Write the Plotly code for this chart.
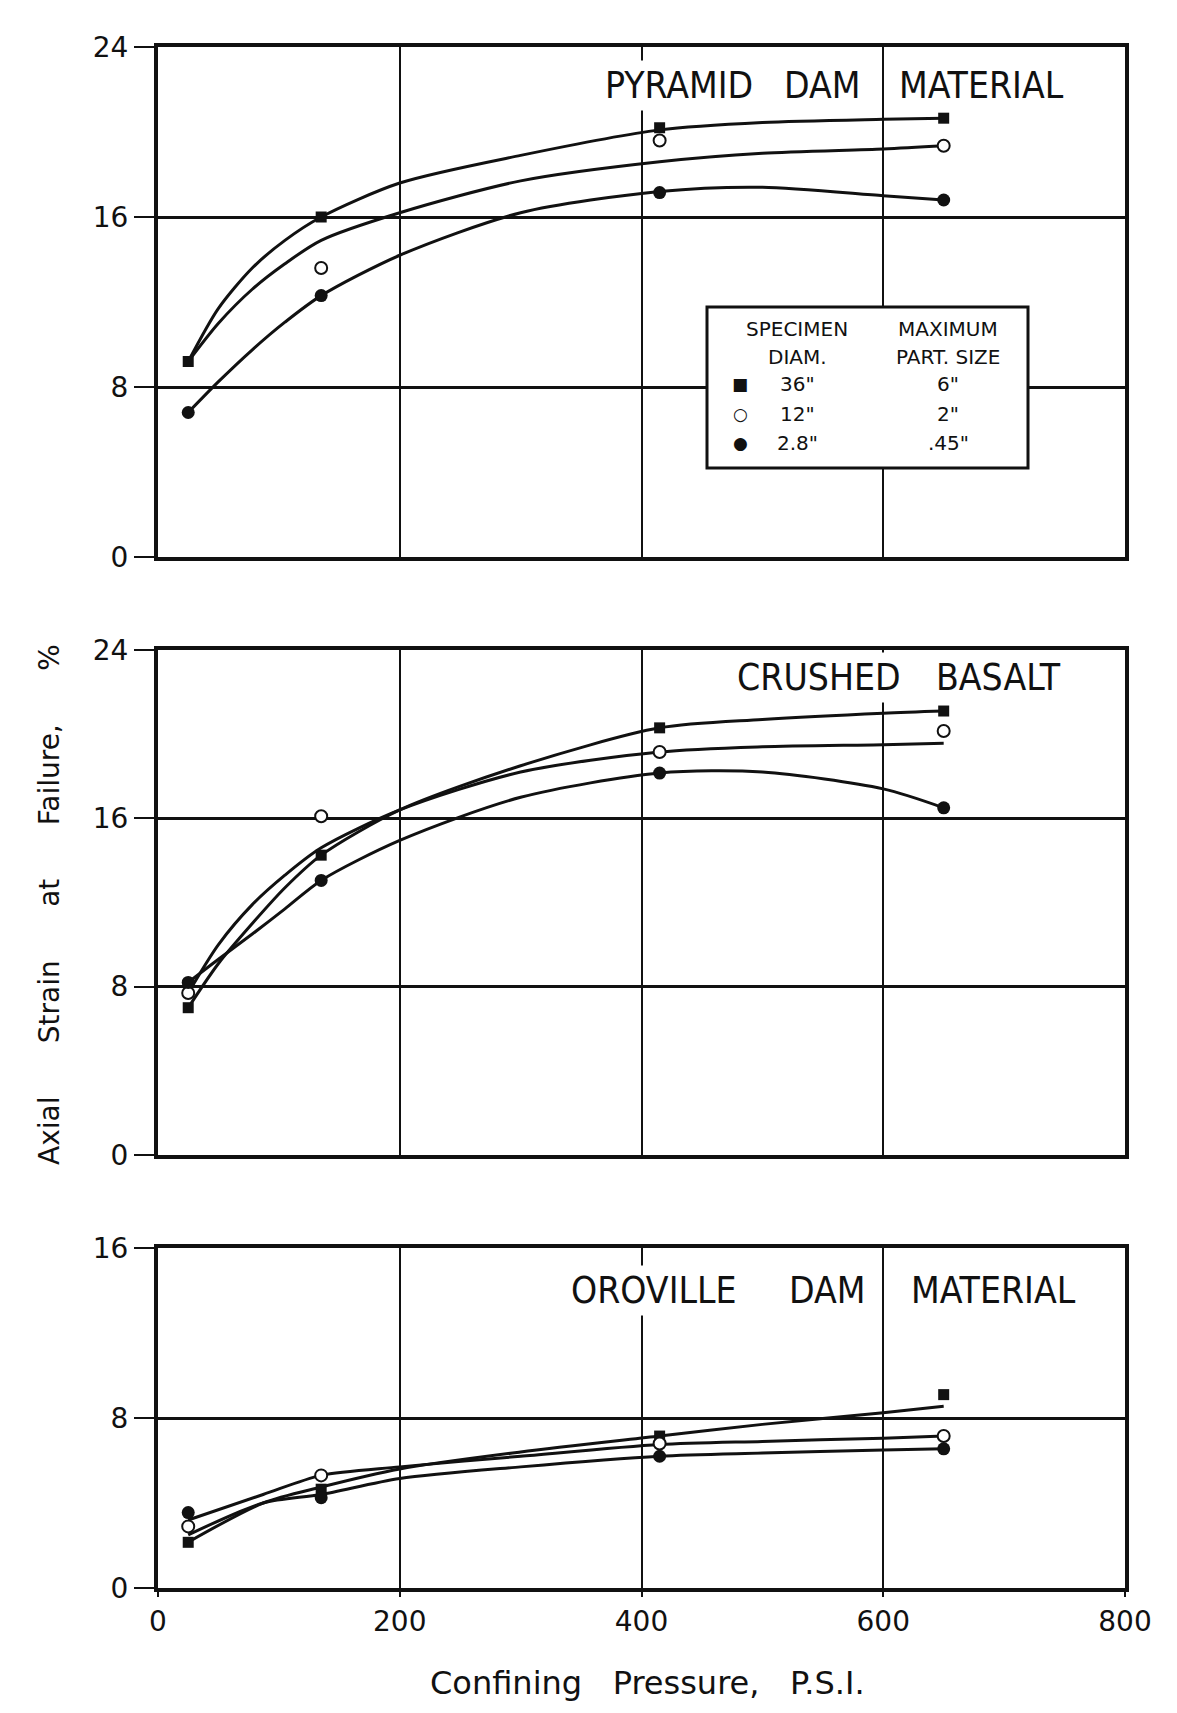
import plotly.graph_objects as go

W, H = 1177, 1713

# ---------------- data ----------------
pressure = [25, 135, 415, 650]          # confining pressure, psi (test points)

# Pyramid Dam material
pyr_36 = [9.2, 16.0, 20.2, 20.65]
pyr_12 = [None, 13.6, 19.6, 19.35]
pyr_28 = [6.8, 12.3, 17.15, 16.8]
pyr_curve_p = [25, 50, 78, 105, 135, 200, 300, 415, 500, 600, 650]
pyr_curve_36 = [9.2, 11.7, 13.6, 14.9, 16.0, 17.6, 18.9, 20.1, 20.45, 20.6, 20.65]
pyr_curve_12 = [9.2, 11.0, 12.6, 13.8, 14.9, 16.2, 17.7, 18.6, 19.0, 19.2, 19.35]
pyr_curve_28 = [6.8, 8.25, 9.75, 11.05, 12.3, 14.2, 16.2, 17.2, 17.4, 17.0, 16.8]

# Crushed basalt
bas_36 = [7.0, 14.25, 20.3, 21.1]
bas_12 = [7.7, 16.1, 19.15, 20.15]
bas_28 = [8.2, 13.05, 18.15, 16.5]
bas_curve_p = [25, 50, 78, 105, 135, 200, 300, 415, 500, 600, 650]
bas_curve_36 = [7.0, 9.1, 11.0, 12.7, 14.25, 16.4, 18.5, 20.3, 20.7, 21.0, 21.1]
bas_curve_12 = [7.7, 10.0, 11.9, 13.3, 14.6, 16.4, 18.2, 19.15, 19.4, 19.5, 19.57]
bas_curve_28 = [8.2, 9.3, 10.5, 11.7, 13.05, 14.95, 17.0, 18.15, 18.2, 17.4, 16.5]

# Oroville Dam material
oro_36 = [2.15, 4.65, 7.15, 9.1]
oro_12 = [2.9, 5.3, 6.8, 7.15]
oro_28 = [3.55, 4.25, 6.2, 6.55]
oro_curve_p = [25, 87, 135, 200, 300, 415, 500, 600, 650]
oro_curve_36 = [2.16, 4.0, 4.75, 5.6, 6.4, 7.15, 7.7, 8.25, 8.55]
oro_curve_12 = [3.2, 4.4, 5.3, 5.7, 6.2, 6.75, 6.9, 7.05, 7.15]
oro_curve_28 = [2.5, 4.0, 4.4, 5.15, 5.7, 6.2, 6.35, 6.5, 6.55]

x_ticks = [0, 200, 400, 600, 800]
y_ticks_big = [0, 8, 16, 24]
y_ticks_small = [0, 8, 16]

panel_titles = [["PYRAMID", "DAM", "MATERIAL"],
                ["CRUSHED", "BASALT"],
                ["OROVILLE", "DAM", "MATERIAL"]]
legend_col1 = ["SPECIMEN", "DIAM.", '36"', '12"', '2.8"']
legend_col2 = ["MAXIMUM", "PART. SIZE", '6"', '2"', '.45"']
NB = "\u00a0"
x_title = (NB * 3).join(["Confining", "Pressure,", "P.S.I."])
y_title = (NB * 6).join(["Axial", "Strain", "at", "Failure,", "%"])

# ---------------- layout helpers (page pixel coords -> paper coords) ----------------
OFF = 8                       # page body offset
ML, MR, MT, MB = 158 - OFF, W - (1125 - OFF), 47 - OFF, H - (1588 - OFF)
PW, PH = W - ML - MR, H - MT - MB

def px(x):
    return (x - OFF - ML) / PW

def py(y):
    return 1 - (y - OFF - MT) / PH

INK = "#111111"
FONT = "DejaVu Sans, Liberation Sans, sans-serif"
NARROW = "Liberation Sans Narrow, DejaVu Sans Condensed, DejaVu Sans, sans-serif"

xdom = [0, 1]
ydoms = [[py(557), 1], [py(1155), py(650)], [0, py(1248)]]

fig = go.Figure()

panels = [
    (pyr_curve_p, pyr_curve_36, pyr_curve_12, pyr_curve_28, pyr_36, pyr_12, pyr_28),
    (bas_curve_p, bas_curve_36, bas_curve_12, bas_curve_28, bas_36, bas_12, bas_28),
    (oro_curve_p, oro_curve_36, oro_curve_12, oro_curve_28, oro_36, oro_12, oro_28),
]

for i, (cp, c36, c12, c28, m36, m12, m28) in enumerate(panels):
    xa = "x" if i == 0 else f"x{i+1}"
    ya = "y" if i == 0 else f"y{i+1}"
    for cy in (c36, c12, c28):
        fig.add_trace(go.Scatter(x=cp, y=cy, mode="lines", xaxis=xa, yaxis=ya,
                                 line=dict(color=INK, width=3, shape="spline", smoothing=0.8),
                                 showlegend=False, hoverinfo="skip"))
    fig.add_trace(go.Scatter(x=pressure, y=m36, mode="markers", xaxis=xa, yaxis=ya,
                             marker=dict(symbol="square", size=11, color=INK),
                             showlegend=False))
    fig.add_trace(go.Scatter(x=pressure, y=m12, mode="markers", xaxis=xa, yaxis=ya,
                             marker=dict(symbol="circle", size=12, color="white",
                                         line=dict(color=INK, width=2)),
                             showlegend=False))
    fig.add_trace(go.Scatter(x=pressure, y=m28, mode="markers", xaxis=xa, yaxis=ya,
                             marker=dict(symbol="circle", size=13, color=INK),
                             showlegend=False))

layout = dict(width=W, height=H, autosize=False,
              margin=dict(l=ML, r=MR, t=MT, b=MB, autoexpand=False),
              paper_bgcolor="white", plot_bgcolor="white",
              font=dict(family=FONT, color=INK, size=26))

for i in range(3):
    xk = "xaxis" if i == 0 else f"xaxis{i+1}"
    yk = "yaxis" if i == 0 else f"yaxis{i+1}"
    ya = "y" if i == 0 else f"y{i+1}"
    xa = "x" if i == 0 else f"x{i+1}"
    bottom = (i == 2)
    layout[xk] = dict(domain=xdom, anchor=ya, range=[0, 800],
                      tickvals=x_ticks, showticklabels=bottom,
                      ticks="outside" if bottom else "", ticklen=5, tickwidth=2, tickcolor=INK,
                      tickfont=dict(size=28, family=FONT, color=INK),
                      showgrid=True, gridcolor=INK, gridwidth=2,
                      showline=True, mirror=True, linecolor=INK, linewidth=4,
                      zeroline=False, fixedrange=True)
    yt = y_ticks_small if bottom else y_ticks_big
    layout[yk] = dict(domain=ydoms[i], anchor=xa, range=[0, yt[-1]],
                      tickvals=yt, ticks="outside", ticklen=20, tickwidth=2, tickcolor=INK,
                      tickfont=dict(size=28, family=FONT, color=INK),
                      showgrid=True, gridcolor=INK, gridwidth=3,
                      showline=True, mirror=True, linecolor=INK, linewidth=4,
                      zeroline=False, fixedrange=True)

fig.update_layout(**layout)

# ---------------- panel titles (word by word, white background breaking grid) ----------------
title_pos = [
    ([601, 780, 895], 85),
    ([733, 932], 677),
    ([567, 785, 907], 1290),
]
annotations = []
for words, (xs, yc) in zip(panel_titles, title_pos):
    for w, x0 in zip(words, xs):
        annotations.append(dict(text=w, x=px(x0), y=py(yc), xref="paper", yref="paper",
                                xanchor="left", yanchor="middle", showarrow=False,
                                bgcolor="white", borderpad=3,
                                font=dict(family=NARROW, size=37, color=INK)))

# ---------------- legend box ----------------
fig.add_shape(type="rect", xref="paper", yref="paper",
              x0=px(707), x1=px(1028), y0=py(468), y1=py(307),
              line=dict(color=INK, width=3), fillcolor="white", layer="above")
row_y = [329, 357, 384, 414, 443]
for t, yy in zip(legend_col1, row_y):
    annotations.append(dict(text=t, x=px(797), y=py(yy), xref="paper", yref="paper",
                            xanchor="center", yanchor="middle", showarrow=False,
                            font=dict(family=FONT, size=20, color=INK)))
for t, yy in zip(legend_col2, row_y):
    annotations.append(dict(text=t, x=px(948), y=py(yy), xref="paper", yref="paper",
                            xanchor="center", yanchor="middle", showarrow=False,
                            font=dict(family=FONT, size=20, color=INK)))
for sym, yy in zip(["\u25a0", "\u25cb", "\u25cf"], row_y[2:]):
    annotations.append(dict(text=sym, x=px(740), y=py(yy), xref="paper", yref="paper",
                            xanchor="center", yanchor="middle", showarrow=False,
                            font=dict(family=FONT, size=17, color=INK)))

# ---------------- axis titles ----------------
annotations.append(dict(text=x_title, x=px(647), y=py(1683), xref="paper", yref="paper",
                        xanchor="center", yanchor="middle", showarrow=False,
                        font=dict(family=FONT, size=32, color=INK)))
annotations.append(dict(text=y_title, x=px(49), y=py(905), xref="paper", yref="paper",
                        xanchor="center", yanchor="middle", showarrow=False, textangle=-90,
                        font=dict(family=FONT, size=28, color=INK)))

fig.update_layout(annotations=annotations)

fig.write_html("out.html")
